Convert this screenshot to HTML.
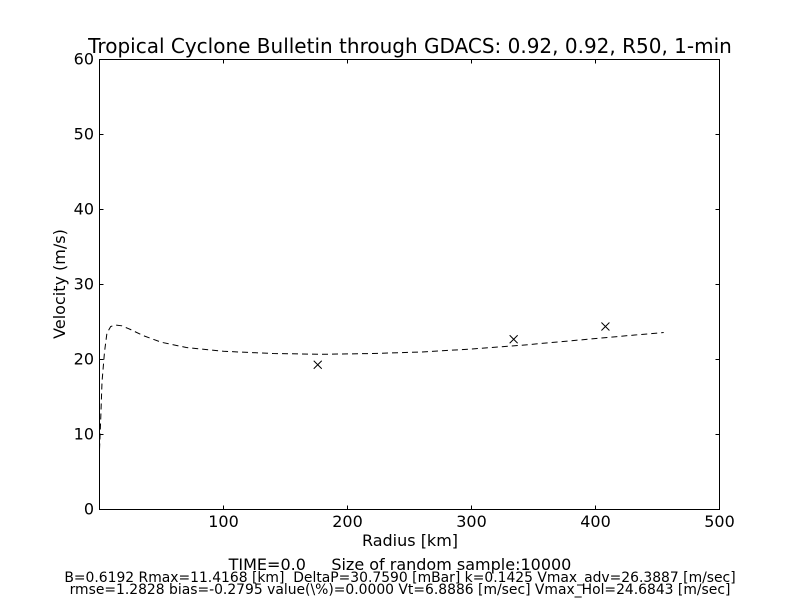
<!DOCTYPE html>
<html><head><meta charset="utf-8"><style>
body{margin:0;background:#fff;font-family:"Liberation Sans","DejaVu Sans",sans-serif}
svg text{font-family:"DejaVu Sans","Liberation Sans",sans-serif;white-space:pre}
</style></head><body>
<svg id="chart" width="800" height="600" xmlns="http://www.w3.org/2000/svg">
<rect width="800" height="600" fill="#fff"/>
<text x="410" y="53" font-size="20" text-anchor="middle">Tropical Cyclone Bulletin through GDACS: 0.92, 0.92, R50, 1-min</text>
<rect x="99.5" y="59.5" width="620" height="450" fill="none" stroke="#000" stroke-width="1"/>
<g id="xticks"></g><g id="yticks"></g>
<text x="410" y="546" font-size="16" text-anchor="middle">Radius [km]</text>
<text transform="translate(65,284) rotate(-90)" font-size="16" text-anchor="middle">Velocity (m/s)</text>
<path id="curve" fill="none" stroke="#000" stroke-width="1" stroke-dasharray="6,4"/>
<g id="marks"></g>
<text x="400" y="570" font-size="16" text-anchor="middle" xml:space="preserve">TIME=0.0     Size of random sample:10000</text>
<text x="400" y="582" font-size="13.9" text-anchor="middle" xml:space="preserve">B=0.6192 Rmax=11.4168 [km]  DeltaP=30.7590 [mBar] k=0.1425 Vmax_adv=26.3887 [m/sec]</text>
<text x="400" y="594" font-size="13.9" text-anchor="middle" xml:space="preserve">rmse=1.2828 bias=-0.2795 value(\%)=0.0000 Vt=6.8886 [m/sec] Vmax_Hol=24.6843 [m/sec]</text>
</svg>
<script>
const xTicks=[100,200,300,400,500];
const yTicks=[0,10,20,30,40,50,60];
const curveR=[0,1,2,4,6,9,13,18,25,35,50,70,100,140,180,220,260,300,340,380,420,455];
const curveV=[8,12,17,21,23.5,24.4,24.6,24.5,24,23.2,22.3,21.6,21.1,20.8,20.7,20.8,21,21.4,21.9,22.5,23.1,23.6];
const obsR=[176,334,408];
const obsV=[19.3,22.7,24.4];
const NS="http://www.w3.org/2000/svg";
const X=r=>99.5+r/500*620, Y=v=>509.5-v/60*450;
function mk(t,a,p){const e=document.createElementNS(NS,t);for(const k in a)e.setAttribute(k,a[k]);p.appendChild(e);return e;}
const xt=document.getElementById('xticks'),yt=document.getElementById('yticks');
xTicks.forEach(t=>{const x=X(t);
 const l1=mk('line',{x1:x,x2:x,y1:509.5,y2:505.5,stroke:'#000'},xt);
 const l2=mk('line',{x1:x,x2:x,y1:59.5,y2:63.5,stroke:'#000'},xt);
 const tx=mk('text',{x:x,y:527,'font-size':16,'text-anchor':'middle'},xt);tx.textContent=t;});
yTicks.forEach(t=>{const y=Y(t);
 const l1=mk('line',{x1:99.5,x2:103.5,y1:y,y2:y,stroke:'#000'},yt);
 const l2=mk('line',{x1:715.5,x2:719.5,y1:y,y2:y,stroke:'#000'},yt);
 const tx=mk('text',{x:94,y:y+5,'font-size':16,'text-anchor':'end'},yt);tx.textContent=t;});
document.getElementById('curve').setAttribute('d',curveR.map((r,i)=>(i?'L':'M')+X(r).toFixed(1)+','+Y(curveV[i]).toFixed(1)).join(''));
const mg=document.getElementById('marks');
obsR.forEach((r,i)=>{const x=X(r),y=Y(obsV[i]);
 const p=mk('path',{d:`M${x-4},${y-4}L${x+4},${y+4}M${x-4},${y+4}L${x+4},${y-4}`,stroke:'#000',fill:'none'},mg);
 
 });
</script>
</body></html>
